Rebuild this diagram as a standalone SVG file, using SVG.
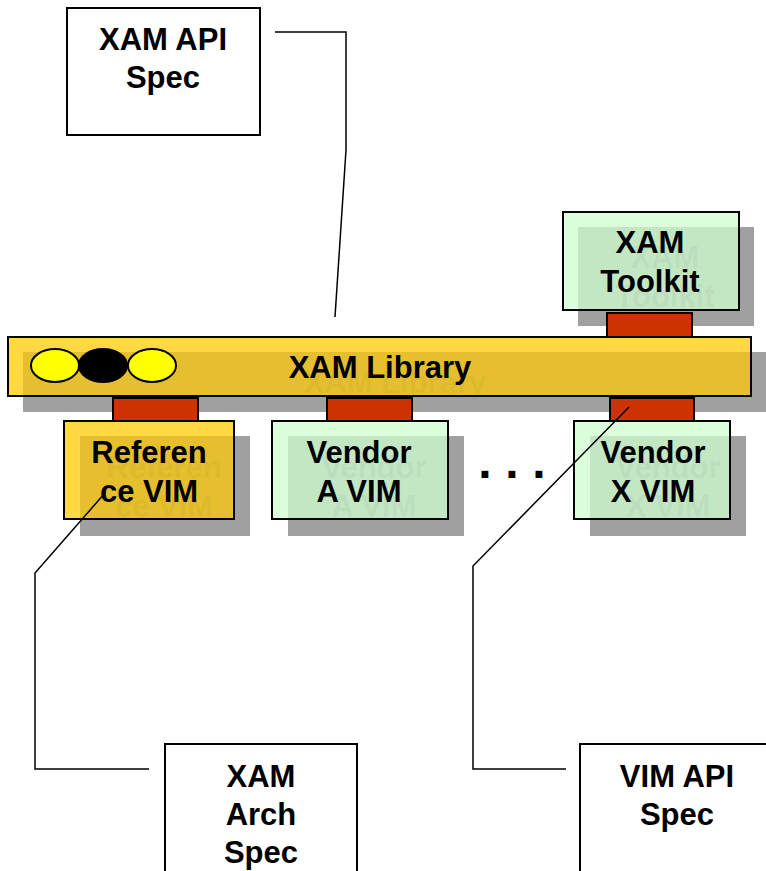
<svg xmlns="http://www.w3.org/2000/svg" width="766" height="871" viewBox="0 0 766 871">
<style>
.t{font-family:"Liberation Sans",Arial,sans-serif;font-weight:bold;font-size:31px;text-anchor:middle;fill:#000}
.g{font-family:"Liberation Sans",Arial,sans-serif;font-weight:bold;font-size:31px;text-anchor:middle;fill:#000;fill-opacity:0.05}
.sh{fill:#a0a0a0}
.y{fill:#ffd843;stroke:#000;stroke-width:2}
.yo{fill:#e5bf2d}
.gr{fill:#daffda;stroke:#000;stroke-width:2}
.go{fill:#c3e6c3}
.wb{fill:#fff;stroke:#000;stroke-width:2}
.red{fill:#cc3300;stroke:#000;stroke-width:2}
.c{fill:none;stroke:#000;stroke-width:1.5}
</style>
<rect width="766" height="871" fill="#fff"/>

<g id="xam-api-spec">
<rect class="wb" x="67" y="8" width="193" height="127"/>
<text class="t" x="163" y="50">XAM API</text>
<text class="t" x="163" y="88">Spec</text>
</g>

<g id="xam-toolkit">
<rect class="sh" x="578" y="227" width="176" height="99"/>
<rect class="gr" x="563" y="212" width="176" height="98"/>
<rect class="go" x="578" y="227" width="160" height="82"/>
<text class="g" x="665" y="268">XAM</text>
<text class="g" x="665" y="307">Toolkit</text>
<text class="t" x="650" y="253">XAM</text>
<text class="t" x="650" y="292">Toolkit</text>
<rect class="red" x="607" y="313" width="85" height="24"/>
</g>

<g id="xam-library">
<rect class="sh" x="23" y="352" width="743" height="60"/>
<rect class="y" x="8" y="337" width="743" height="59"/>
<rect class="yo" x="23" y="352" width="727" height="43"/>
<text class="g" x="395" y="393">XAM Library</text>
<text class="t" x="380" y="378">XAM Library</text>
<ellipse cx="55" cy="365.5" rx="24" ry="16.5" fill="#ffff00" stroke="#000" stroke-width="2"/>
<ellipse cx="103" cy="365.5" rx="24" ry="16.5" fill="#000" stroke="#000" stroke-width="2"/>
<ellipse cx="152" cy="365.5" rx="24" ry="16.5" fill="#ffff00" stroke="#000" stroke-width="2"/>
</g>

<g id="reference-vim">
<rect class="red" x="113" y="398" width="85" height="23"/>
<rect class="sh" x="80" y="436" width="170" height="100"/>
<rect class="y" x="64" y="421" width="170" height="98"/>
<rect class="yo" x="80" y="436" width="153" height="82"/>
<text class="g" x="164" y="478">Referen</text>
<text class="g" x="164" y="517">ce VIM</text>
<text class="t" x="149" y="463">Referen</text>
<text class="t" x="149" y="502">ce VIM</text>
</g>

<g id="vendor-a-vim">
<rect class="red" x="327" y="398" width="85" height="23"/>
<rect class="sh" x="288" y="436" width="176" height="100"/>
<rect class="gr" x="272" y="421" width="176" height="98"/>
<rect class="go" x="288" y="436" width="159" height="82"/>
<text class="g" x="374" y="478">Vendor</text>
<text class="g" x="374" y="517">A VIM</text>
<text class="t" x="359" y="463">Vendor</text>
<text class="t" x="359" y="502">A VIM</text>
</g>

<g id="ellipsis">
<text class="t" style="text-anchor:start;font-size:48px" x="478.3 505.3 532.3" y="478">...</text>
</g>

<g id="vendor-x-vim">
<rect class="red" x="610" y="398" width="84" height="23"/>
<rect class="sh" x="590" y="436" width="156" height="100"/>
<rect class="gr" x="574" y="421" width="156" height="98"/>
<rect class="go" x="590" y="436" width="139" height="82"/>
<text class="g" x="668" y="478">Vendor</text>
<text class="g" x="668" y="517">X VIM</text>
<text class="t" x="653" y="463">Vendor</text>
<text class="t" x="653" y="502">X VIM</text>
</g>

<g id="xam-arch-spec">
<rect class="wb" x="165" y="744" width="192" height="140"/>
<text class="t" x="261" y="787">XAM</text>
<text class="t" x="261" y="825">Arch</text>
<text class="t" x="261" y="863">Spec</text>
</g>

<g id="vim-api-spec">
<rect class="wb" x="580" y="744" width="200" height="140"/>
<text class="t" x="677" y="787">VIM API</text>
<text class="t" x="677" y="825">Spec</text>
</g>

<g id="connectors">
<polyline class="c" points="275,32 346,32 346,150 335,317"/>
<polyline class="c" points="105,493 35,573 35,769 149,769"/>
<polyline class="c" points="629,407 473,566 473,769 566,769"/>
</g>
</svg>
